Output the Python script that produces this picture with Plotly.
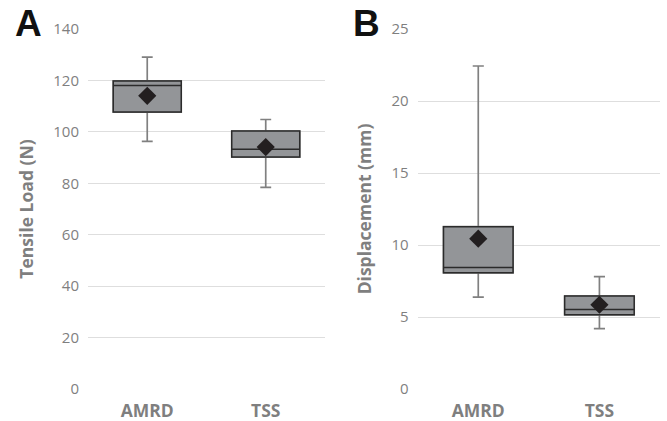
import plotly.graph_objects as go

categories = ["AMRD", "TSS"]

# Panel A: Tensile Load (N)
load_q1 = [107.7, 90.2]
load_median = [118.0, 93.2]
load_q3 = [119.8, 100.3]
load_low = [96.3, 78.4]
load_high = [129.1, 104.8]
load_mean = [114.0, 94.1]

# Panel B: Displacement (mm)
disp_q1 = [8.07, 5.15]
disp_median = [8.43, 5.52]
disp_q3 = [11.27, 6.45]
disp_low = [6.38, 4.19]
disp_high = [22.43, 7.81]
disp_mean = [10.44, 5.85]

load_ticks = [0, 20, 40, 60, 80, 100, 120, 140]
disp_ticks = [0, 5, 10, 15, 20, 25]

FILL = "#939598"
EDGE = "#2b2b2b"
WHISK = "#808080"
MEAN = "#231f20"
TXT = "#7f7f7f"
FONT = "Open Sans"

fig = go.Figure()


def add_panel(q1, med, q3, lo, hi, mean, xa, ya):
    # whiskers (gray)
    fig.add_trace(go.Box(
        x=categories, q1=q1, median=med, q3=q3, lowerfence=lo, upperfence=hi,
        xaxis=xa, yaxis=ya, width=0.574, whiskerwidth=0.16,
        fillcolor=FILL, line=dict(color=WHISK, width=1.7),
        hoverinfo="skip", showlegend=False))
    # box body (dark edge)
    fig.add_trace(go.Box(
        x=categories, q1=q1, median=med, q3=q3, lowerfence=q1, upperfence=q3,
        xaxis=xa, yaxis=ya, width=0.574, whiskerwidth=1,
        fillcolor=FILL, line=dict(color=EDGE, width=1.5),
        hoverinfo="skip", showlegend=False))
    fig.add_trace(go.Scatter(
        x=categories, y=mean, mode="markers", xaxis=xa, yaxis=ya,
        marker=dict(symbol="diamond", size=14, color=MEAN),
        showlegend=False, hoverinfo="skip"))


add_panel(load_q1, load_median, load_q3, load_low, load_high, load_mean, "x", "y")
add_panel(disp_q1, disp_median, disp_q3, disp_low, disp_high, disp_mean, "x2", "y2")

axis_common = dict(showline=False, zeroline=False, ticks="", ticklabelstandoff=8,
                   automargin=False,
                   tickfont=dict(family=FONT, size=15, color=TXT))
xcommon = dict(showgrid=False, range=[-0.5, 1.5], showline=False, zeroline=False,
               ticks="", ticklabelstandoff=9, automargin=False,
               tickfont=dict(family=FONT, size=17.5, color=TXT, weight="bold"))
title_font = dict(family=FONT, size=17.5, color=TXT, weight="bold")

fig.update_layout(
    width=667, height=421,
    margin=dict(l=88, r=7, t=29, b=32),
    paper_bgcolor="white", plot_bgcolor="white",
    boxmode="overlay",
    font=dict(family=FONT, color=TXT),
    xaxis=dict(domain=[0, 0.4143], anchor="y", **xcommon),
    xaxis2=dict(domain=[0.5764, 1], anchor="y2", **xcommon),
    yaxis=dict(domain=[0, 1], anchor="x", range=[0, 140], tickvals=load_ticks,
               showgrid=True, gridcolor="#dedede", gridwidth=1,
               title=dict(text="Tensile Load (N)", standoff=15, font=title_font),
               **axis_common),
    yaxis2=dict(domain=[0, 1], anchor="x2", range=[0, 25], tickvals=disp_ticks,
                showgrid=True, gridcolor="#dedede", gridwidth=1,
                title=dict(text="Displacement (mm)", standoff=15, font=title_font),
                **axis_common),
)

fig.add_annotation(text="A", xref="paper", yref="paper", x=-0.131, y=1.015,
                   xanchor="left", yanchor="middle", showarrow=False,
                   font=dict(family="Liberation Sans", size=37, color="#111111", weight="bold"))
fig.add_annotation(text="B", xref="paper", yref="paper", x=0.459, y=1.015,
                   xanchor="left", yanchor="middle", showarrow=False,
                   font=dict(family="Liberation Sans", size=37, color="#111111", weight="bold"))

fig.write_html("out.html")
